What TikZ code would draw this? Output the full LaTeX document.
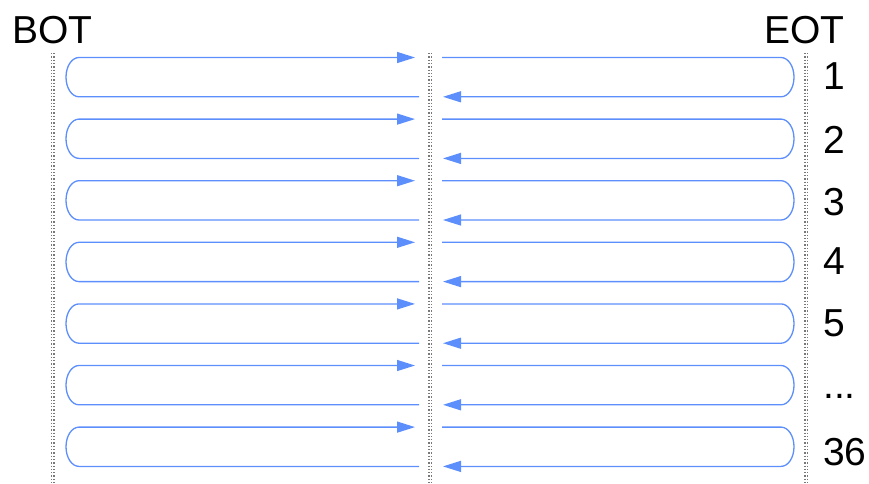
\documentclass[tikz,border=0pt]{standalone}
\usepackage{fontspec}
\setmainfont{Liberation Sans}
\usetikzlibrary{arrows.meta}
\definecolor{trackblue}{RGB}{92,142,252}
\definecolor{dotgray}{RGB}{120,120,120}
\tikzset{
  trackline/.style={draw=trackblue, line width=1.3pt},
  trackarrow/.style={-{Triangle[length=18pt,width=11pt]}, trackblue},
  dotline/.style={draw=dotgray, line width=1.3pt, dash pattern=on 1.3pt off 2pt},
  lbl/.style={font=\fontsize{39}{39}\selectfont, inner sep=0pt, anchor=base west, text=black}
}
\begin{document}
\begin{tikzpicture}[x=1pt,y=-1pt]
\useasboundingbox (0,0) rectangle (869,483);
% dotted guide lines
\foreach \x in {51.5,54,429,431.5,805,807.5}{
  \draw[dotline] (\x,53) -- (\x,483);
}
% tracks
\foreach \i in {0,...,6}{
  \pgfmathsetmacro{\T}{57.5+61.6*\i}
  \pgfmathsetmacro{\B}{\T+39.3}
  \pgfmathsetmacro{\M}{\T+19.65}
  \pgfmathsetmacro{\Bk}{\M+19.65*0.5523}
  \pgfmathsetmacro{\Tk}{\M-19.65*0.5523}
  \coordinate (la\i) at (419,\B);
  \coordinate (lb\i) at (79,\B);
  \coordinate (lm\i) at (66,\M);
  \coordinate (lc\i) at (79,\T);
  \coordinate (ld\i) at (415,\T);
  \coordinate (ra\i) at (442,\T);
  \coordinate (rb\i) at (781,\T);
  \coordinate (rm\i) at (794,\M);
  \coordinate (rc\i) at (781,\B);
  \coordinate (rd\i) at (443,\B);
  \draw[trackline,trackarrow] (la\i) -- (lb\i)
     .. controls (71.8,\B) and (66,\Bk) .. (lm\i)
     .. controls (66,\Tk) and (71.8,\T) .. (lc\i) -- (ld\i);
  \draw[trackline,trackarrow] (ra\i) -- (rb\i)
     .. controls (788.2,\T) and (794,\Tk) .. (rm\i)
     .. controls (794,\Bk) and (788.2,\B) .. (rc\i) -- (rd\i);
}
% labels
\node[lbl] (bot) at (12,43) {BOT};
\node[lbl] (eot) at (764,43) {EOT};
\node[lbl] (n1) at (823,89) {1};
\node[lbl] (n2) at (823,153) {2};
\node[lbl] (n3) at (823,215) {3};
\node[lbl] (n4) at (823,274) {4};
\node[lbl] (n5) at (823,336) {5};
\node[lbl] (n6) at (823,398) {...};
\node[lbl] (n36) at (823,465) {36};
\end{tikzpicture}
\end{document}
